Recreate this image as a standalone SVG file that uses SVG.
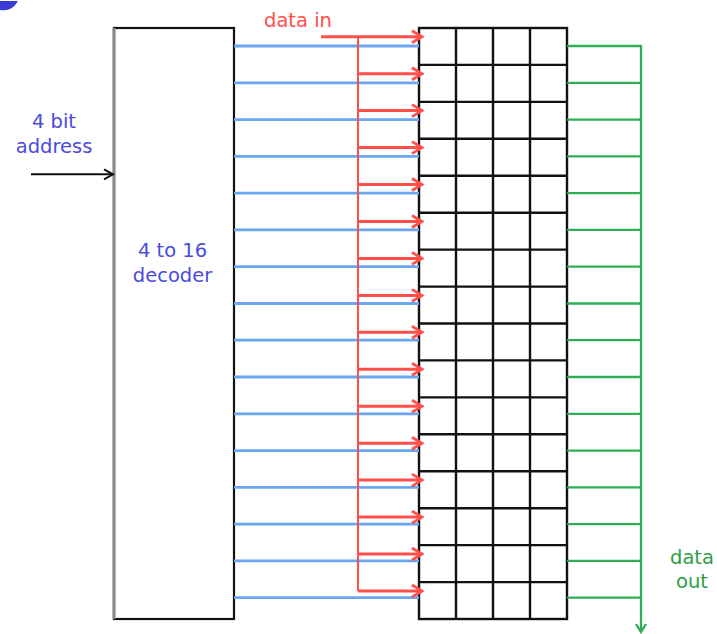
<svg xmlns="http://www.w3.org/2000/svg" width="717" height="634" viewBox="0 0 717 634">
<style>
.lbl{font-family:"DejaVu Sans","Liberation Sans",sans-serif;font-size:19.5px;text-anchor:middle}
.blue{stroke:#6aa6f2;stroke-width:2.8;fill:none}
.red{stroke:#ff4f4a;stroke-width:3;fill:none}
.green{stroke:#2fae55;stroke-width:2.3;fill:none}
.grid{stroke:#111;stroke-width:2.4;fill:none}
</style>
<defs>
<marker id="ar" markerUnits="userSpaceOnUse" markerWidth="16" markerHeight="16" refX="12" refY="7" orient="auto" overflow="visible">
<path d="M2,1 L12,7 L2,13" fill="none" stroke="#ff4f4a" stroke-width="2.8"/>
</marker>
<marker id="ak" markerUnits="userSpaceOnUse" markerWidth="14" markerHeight="14" refX="11" refY="6" orient="auto" overflow="visible">
<path d="M2,1 L11,6 L2,11" fill="none" stroke="#111" stroke-width="2"/>
</marker>
<marker id="ag" markerUnits="userSpaceOnUse" markerWidth="14" markerHeight="14" refX="11" refY="6" orient="auto" overflow="visible">
<path d="M3,1 L11,6 L3,11" fill="none" stroke="#2fae55" stroke-width="2.3"/>
</marker>
</defs>
<rect width="717" height="634" fill="#fff"/>
<path d="M0,1 L18,1 Q12,12 0,10 Z" fill="#3b3bd8"/>

<g id="decoder">
<rect x="114" y="28" width="120" height="591" fill="#fff" stroke="#111" stroke-width="2.2"/>
<line x1="114" y1="28" x2="114" y2="619" stroke="#888" stroke-width="3"/>
<text class="lbl" x="172.5" y="257" fill="#4b4bdc">4 to 16</text>
<text class="lbl" x="172.5" y="282" fill="#4b4bdc">decoder</text>
</g>

<g id="memory">
<rect x="419" y="28" width="148" height="591" fill="#fff" class="grid"/>
<path class="grid" d="M456,28V619M493,28V619M530,28V619
M419,64.9H567M419,101.9H567M419,138.8H567M419,175.8H567M419,212.7H567M419,249.6H567M419,286.6H567M419,323.5H567M419,360.4H567M419,397.4H567M419,434.3H567M419,471.3H567M419,508.2H567M419,545.1H567M419,582.1H567"/>
</g>

<g id="address-label">
<text class="lbl" x="54" y="128" fill="#4b4bdc">4 bit</text>
<text class="lbl" x="54" y="153" fill="#4b4bdc">address</text>
</g>
<g id="data-in-label">
<text class="lbl" x="298" y="27" fill="#ff4f4a">data in</text>
</g>
<g id="data-out-label">
<text class="lbl" x="692" y="564" fill="#2f9e44">data</text>
<text class="lbl" x="692" y="588" fill="#2f9e44">out</text>
</g>

<g id="connectors">
<line x1="31" y1="174.3" x2="113" y2="174.3" stroke="#111" stroke-width="2" marker-end="url(#ak)"/>
<path class="blue" d="M234,46H419M234,82.8H419M234,119.6H419M234,156.3H419M234,193.1H419M234,229.9H419M234,266.7H419M234,303.5H419M234,340.2H419M234,377H419M234,413.8H419M234,450.6H419M234,487.4H419M234,524.1H419M234,560.9H419M234,597.7H419"/>
<line x1="358" y1="36.7" x2="358" y2="591" stroke="#ff4f4a" stroke-width="2"/>
<g class="red" marker-end="url(#ar)">
<line x1="321" y1="36.7" x2="422" y2="36.7"/>
<line x1="358" y1="73.7" x2="422" y2="73.7"/>
<line x1="358" y1="110.6" x2="422" y2="110.6"/>
<line x1="358" y1="147.6" x2="422" y2="147.6"/>
<line x1="358" y1="184.5" x2="422" y2="184.5"/>
<line x1="358" y1="221.5" x2="422" y2="221.5"/>
<line x1="358" y1="258.4" x2="422" y2="258.4"/>
<line x1="358" y1="295.4" x2="422" y2="295.4"/>
<line x1="358" y1="332.3" x2="422" y2="332.3"/>
<line x1="358" y1="369.3" x2="422" y2="369.3"/>
<line x1="358" y1="406.2" x2="422" y2="406.2"/>
<line x1="358" y1="443.2" x2="422" y2="443.2"/>
<line x1="358" y1="480.1" x2="422" y2="480.1"/>
<line x1="358" y1="517.1" x2="422" y2="517.1"/>
<line x1="358" y1="554" x2="422" y2="554"/>
<line x1="358" y1="591" x2="422" y2="591"/>
</g>
<path class="green" d="M567,46H641M567,82.8H641M567,119.6H641M567,156.3H641M567,193.1H641M567,229.9H641M567,266.7H641M567,303.5H641M567,340.2H641M567,377H641M567,413.8H641M567,450.6H641M567,487.4H641M567,524.1H641M567,560.9H641M567,597.7H641"/>
<line class="green" x1="641" y1="45" x2="641" y2="632" marker-end="url(#ag)"/>
</g>
</svg>
